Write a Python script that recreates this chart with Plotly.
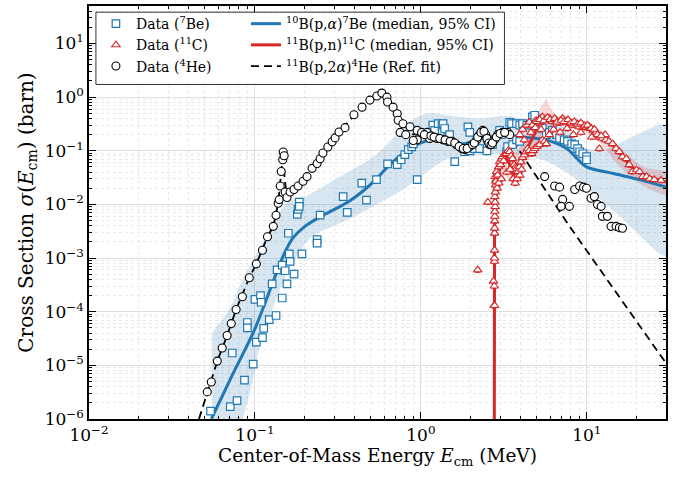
import numpy as np
import plotly.graph_objects as go

# ---------------- data ----------------
# 7Be data (10B(p,a)7Be)
be_x = [0.054, 0.071, 0.078, 0.0865, 0.0976, 0.073, 0.09, 0.09, 0.102, 0.111, 0.113, 0.122, 0.134,
        0.1, 0.108, 0.109, 0.146, 0.127, 0.156, 0.136, 0.146, 0.152, 0.172, 0.163, 0.161, 0.192,
        0.159, 0.237, 0.237, 0.18, 0.182, 0.185, 0.185, 0.247, 0.34, 0.36, 0.44, 0.47, 0.54, 0.63,
        0.72, 0.76, 0.8, 0.84, 0.88, 0.9, 0.95, 1.18, 1.21, 1.27, 1.34, 1.36, 1.39, 1.45, 1.49, 1.6,
        1.84, 1.92, 1.97, 1.97, 2.1, 2.26, 2.5, 2.7, 2.98, 3.06, 3.28, 3.28, 3.33, 3.43, 3.52, 3.57,
        3.77, 3.77, 3.94, 3.94, 4.1, 4.35, 4.7, 4.85, 5.2, 5.4, 5.7, 5.95, 6.2, 6.55, 6.85, 7.3,
        7.65, 8.1, 8.45, 8.8, 9.05, 9.45, 9.96, 9.96]
be_y = [1.4e-6, 1.7e-6, 2.2e-6, 5.3e-6, 1.05e-5, 1.7e-5, 6.3e-5, 5e-5, 2.7e-5, 3.3e-5, 4.9e-5, 7.1e-5, 8.5e-5,
        1.7e-4, 2e-4, 1.5e-4, 1.8e-4, 3.3e-4, 3.3e-4, 6e-4, 7.4e-4, 5.8e-4, 5e-4, 8.7e-4, 1.2e-3, 1.2e-3,
        2.9e-3, 2.2e-3, 1.9e-3, 6.5e-3, 8.1e-3, 0.011, 0.0092, 6.3e-3, 0.014, 7.1e-3, 0.025, 0.012, 0.029, 0.057,
        0.055, 0.068, 0.085, 0.105, 0.118, 0.135, 0.029, 0.3, 0.24, 0.32, 0.3, 0.32, 0.26, 0.18, 0.2, 0.063,
        0.096, 0.28, 0.22, 0.1, 0.11, 0.11, 0.1, 0.13, 0.24, 0.2, 0.22, 0.096, 0.12, 0.34, 0.32, 0.13,
        0.32, 0.16, 0.3, 0.15, 0.32, 0.3, 0.43, 0.46, 0.3, 0.26, 0.2, 0.22, 0.24, 0.2, 0.17, 0.16,
        0.15, 0.135, 0.13, 0.11, 0.096, 0.088, 0.078, 0.068]

# 11C data (11B(p,n)11C)
c_x = [2.2, 2.53, 2.76, 2.78, 2.74, 2.77, 2.775, 2.775, 2.78, 2.78, 2.785, 2.785, 2.79, 2.79, 2.8, 2.8,
       2.79, 2.81, 2.82, 2.84, 2.8,
       2.83, 2.86, 2.9, 2.94, 2.98, 3.02, 3.06, 3.1, 3.15, 3.2, 3.28, 3.35, 3.43, 3.5, 3.57, 3.65, 3.72,
       3.77, 3.85, 3.92, 4.0, 4.1, 4.2, 4.3, 4.4, 4.5, 4.65, 4.75, 4.85, 5.0, 5.2, 5.4, 5.55, 5.7, 5.95,
       2.88, 2.95, 3.05, 3.3, 3.45, 3.6, 3.7, 3.8, 3.95, 4.05,
       3.94, 4.1, 4.2, 4.35, 4.5, 4.7, 4.95, 5.1, 5.25, 5.4, 5.6, 5.95, 6.2, 6.55, 6.8, 7.15, 7.5, 7.85,
       8.2, 8.6, 9.0, 9.45, 9.9, 10.4, 10.9, 11.4, 11.9, 12.4, 13.0, 13.6, 14.3, 15.0, 15.7, 16.4, 17.3,
       18.0, 18.8, 19.9, 20.8, 21.7, 22.9, 23.9, 25.5, 28.0,
       6.3, 6.9, 7.6, 8.3, 9.2, 11.9, 10.7, 12.9, 4.6, 4.9, 5.3,
       5.0, 5.2, 5.5, 5.8, 6.0, 6.4, 6.6, 7.0, 7.3, 7.7, 8.0, 8.4, 8.8, 9.2, 9.7, 10.1, 10.6, 11.1,
       11.6, 12.2]
c_y = [6e-4, 0.011, 1.3e-4, 1.3e-4, 3.7e-4, 3e-4, 8.7e-4, 1e-3, 1.4e-3, 2.9e-3, 3.6e-3, 4.9e-3, 6e-3, 7.4e-3,
       9.1e-3, 0.011, 0.014, 0.017, 0.023, 0.029, 0.033,
       0.027, 0.041, 0.035, 0.05, 0.062, 0.055, 0.07, 0.077, 0.065, 0.085, 0.088, 0.1, 0.096, 0.08, 0.071,
       0.055, 0.05, 0.047, 0.041, 0.05, 0.062, 0.075, 0.084, 0.095, 0.11, 0.1, 0.088, 0.1, 0.11, 0.12, 0.13,
       0.16, 0.15, 0.135, 0.2,
       0.02, 0.025, 0.03, 0.04, 0.045, 0.03, 0.025, 0.03, 0.035, 0.045,
       0.2, 0.25, 0.16, 0.3, 0.34, 0.3, 0.37, 0.33, 0.4, 0.43, 0.38, 0.4, 0.35, 0.37, 0.33, 0.4, 0.36, 0.34,
       0.3, 0.32, 0.28, 0.3, 0.27, 0.28, 0.24, 0.22, 0.18, 0.17, 0.16, 0.15, 0.135, 0.11, 0.096, 0.077, 0.071,
       0.055, 0.041, 0.044, 0.041, 0.033, 0.033, 0.03, 0.029, 0.028,
       0.25, 0.22, 0.26, 0.2, 0.22, 0.11, 0.18, 0.2, 0.22, 0.27, 0.25,
       0.35, 0.38, 0.36, 0.42, 0.38, 0.4, 0.34, 0.37, 0.35, 0.38, 0.33, 0.35, 0.31, 0.33, 0.29, 0.3, 0.26,
       0.25, 0.2, 0.19]

# 4He data (11B(p,2a)4He)
he_x = [0.0516, 0.0546, 0.0593, 0.0635, 0.068, 0.072, 0.077, 0.084, 0.0925, 0.102, 0.111, 0.119, 0.129,
        0.134, 0.138, 0.14, 0.142, 0.144, 0.147, 0.148, 0.15, 0.152, 0.156, 0.163, 0.172, 0.182, 0.195,
        0.206, 0.221, 0.237, 0.247, 0.257, 0.275, 0.292, 0.304, 0.321, 0.349, 0.395, 0.442, 0.493, 0.543,
        0.582, 0.624, 0.63, 0.68, 0.72, 0.73, 0.78, 0.75, 0.81, 0.86, 0.95, 1.01, 1.09, 0.95, 0.9, 1.13,
        1.25, 1.36, 1.45, 1.54, 1.64, 1.76, 1.84, 1.97, 2.17, 2.26, 2.36, 2.46, 2.53, 2.6, 2.78, 2.9,
        3.1, 3.33, 3.43, 1.05, 1.15, 1.2, 1.3, 1.4, 1.5, 1.6, 1.7, 1.8, 1.9, 2.05, 2.1, 2.2, 2.3, 2.4,
        2.5, 2.57, 2.65, 2.7, 2.85, 3.0, 3.2,
        5.57, 6.4, 6.85, 7.15, 7.0, 7.85, 8.45, 9.05, 9.55, 9.96, 10.6, 11.1, 11.6, 12.2, 12.4, 13.3,
        14.0, 15.0, 15.7, 16.4]
he_y = [3.2e-6, 4.9e-6, 1.2e-5, 2.1e-5, 3.6e-5, 6e-5, 1.1e-4, 1.9e-4, 4.3e-4, 7.8e-4, 1.4e-3, 2.5e-3, 3.9e-3,
        6.3e-3, 0.0105, 0.0123, 0.022, 0.041, 0.068, 0.095, 0.081, 0.017, 0.0135, 0.017, 0.019, 0.022, 0.027,
        0.033, 0.047, 0.058, 0.071, 0.091, 0.118, 0.147, 0.174, 0.224, 0.27, 0.47, 0.65, 0.88, 1.05,
        1.19, 1.0, 0.81, 0.65, 0.49, 0.37, 0.32, 0.22, 0.2, 0.28, 0.24, 0.22, 0.22, 0.16, 0.155, 0.17,
        0.17, 0.16, 0.15, 0.15, 0.13, 0.11, 0.105, 0.12, 0.16, 0.2, 0.24, 0.2, 0.15, 0.13, 0.16, 0.2,
        0.22, 0.22, 0.2, 0.2, 0.19, 0.18, 0.17, 0.16, 0.15, 0.14, 0.12, 0.11, 0.11, 0.13, 0.14, 0.18, 0.22, 0.23,
        0.17, 0.14, 0.13, 0.14, 0.18, 0.21, 0.22,
        0.033, 0.022, 0.021, 0.0124, 0.0092, 0.0092, 0.019, 0.022, 0.021, 0.02, 0.013, 0.014, 0.01, 0.0092,
        0.006, 0.006, 0.0039, 0.0039, 0.0037, 0.0036]

# 10B(p,a)7Be median and 95% CI
be_med_x = [0.0546, 0.071, 0.099, 0.129, 0.15, 0.17, 0.2, 0.25, 0.3, 0.37, 0.45, 0.54, 0.65, 0.86, 1.13,
            1.3, 1.79, 2.26, 3.29, 4.1, 5.7, 7.55, 9.96, 14.3, 20.8, 30.0]
be_med_y = [1e-6, 5.5e-6, 4.5e-5, 3.7e-4, 1.2e-3, 2.4e-3, 3.9e-3, 6e-3, 8e-3, 0.0115, 0.018, 0.03, 0.055,
            0.11, 0.16, 0.166, 0.135, 0.166, 0.196, 0.18, 0.16, 0.11, 0.05, 0.038, 0.029, 0.021]
be_ci_x = [0.055, 0.071, 0.082, 0.112, 0.157, 0.2, 0.31, 0.54, 0.86, 1.1, 1.5, 2.3, 3.3, 4.0, 5.0, 7.0,
           10.0, 12.0, 15.0, 20.0, 30.0]
be_ci_hi = [4e-5, 1.2e-4, 3.3e-4, 2e-3, 0.011, 0.014, 0.03, 0.085, 0.35, 0.5, 0.45, 0.4, 0.45, 0.4, 0.4,
            0.3, 0.11, 0.1, 0.13, 0.2, 0.3]
be_lo_x = [0.055, 0.084, 0.11, 0.16, 0.22, 0.3, 0.4, 0.8, 1.25, 1.45, 2.0, 3.0, 4.5, 6.0, 8.0, 10.0, 15.0,
           20.0, 30.0]
be_ci_lo = [1e-7, 1e-6, 3e-5, 6e-4, 2.5e-3, 4e-3, 6e-3, 0.02, 0.055, 0.07, 0.08, 0.088, 0.08, 0.06, 0.035,
            0.02, 0.007, 0.003, 0.0011]

# 11B(p,n)11C median and 95% CI
c_med_x = [2.765, 2.766, 2.77, 2.78, 2.8, 2.9, 3.0, 3.2, 3.4, 3.6, 3.8, 4.0, 4.3, 4.6, 5.0, 5.4, 5.8, 6.5,
           7.5, 8.5, 10.0, 11.0, 12.0, 14.0, 16.0, 18.0, 20.0, 24.0, 30.0]
c_med_y = [1e-8, 1e-5, 1e-3, 4e-3, 0.01, 0.03, 0.05, 0.08, 0.06, 0.035, 0.04, 0.07, 0.1, 0.15, 0.25, 0.35,
           0.4, 0.38, 0.35, 0.32, 0.28, 0.24, 0.19, 0.14, 0.09, 0.055, 0.042, 0.032, 0.026]
c_ci_x = [2.77, 3.0, 3.2, 3.5, 3.8, 4.2, 4.6, 5.0, 5.4, 5.7, 6.1, 6.6, 8.0, 10.0, 12.0, 15.0, 18.0, 22.0, 30.0]
c_ci_hi = [0.02, 0.06, 0.1, 0.08, 0.1, 0.15, 0.3, 0.45, 0.75, 0.9, 0.6, 0.45, 0.42, 0.35, 0.25, 0.14, 0.08,
           0.05, 0.04]
c_lo_x = [2.77, 3.0, 3.2, 3.5, 3.7, 4.0, 4.4, 4.8, 5.2, 5.6, 6.5, 8.0, 10.0, 12.0, 15.0, 18.0, 22.0, 30.0]
c_ci_lo = [1e-3, 0.02, 0.035, 0.025, 0.02, 0.035, 0.06, 0.1, 0.18, 0.25, 0.3, 0.27, 0.22, 0.14, 0.06, 0.035,
           0.022, 0.015]

# 11B(p,2a)4He reference fit
ref_x = [0.046, 0.0516, 0.0593, 0.068, 0.077, 0.0925, 0.102, 0.119, 0.129, 0.138, 0.142, 0.145, 0.148, 0.151,
         0.156, 0.172, 0.2, 0.25, 0.3, 0.35, 0.4, 0.45, 0.5, 0.58, 0.63, 0.7, 0.8, 0.9, 1.0, 1.3, 1.6, 1.84,
         2.0, 2.2, 2.36, 2.6, 2.8, 3.0, 3.3, 3.6, 7.87, 30.0]
ref_y = [1e-6, 3.2e-6, 1.2e-5, 3.6e-5, 1.1e-4, 4.3e-4, 7.8e-4, 2.5e-3, 3.9e-3, 0.0105, 0.025, 0.06, 0.095, 0.03,
         0.0135, 0.019, 0.03, 0.085, 0.19, 0.3, 0.47, 0.7, 0.9, 1.15, 0.95, 0.55, 0.3, 0.2, 0.21, 0.17, 0.14,
         0.105, 0.13, 0.18, 0.24, 0.13, 0.16, 0.2, 0.22, 0.15, 3.9e-3, 1.1e-5]

# tick labels
x_tickvals = [0.01, 0.1, 1, 10]
x_ticktext = ["10<sup>−2</sup>", "10<sup>−1</sup>", "10<sup>0</sup>", "10<sup>1</sup>"]
y_tickvals = [1e-6, 1e-5, 1e-4, 1e-3, 1e-2, 1e-1, 1, 10]
y_ticktext = ["10<sup>−6</sup>", "10<sup>−5</sup>", "10<sup>−4</sup>", "10<sup>−3</sup>",
              "10<sup>−2</sup>", "10<sup>−1</sup>", "10<sup>0</sup>", "10<sup>1</sup>"]
x_minor = [m * d for d in [0.01, 0.1, 1, 10] for m in range(2, 10)]
y_minor = [m * d for d in [1e-6, 1e-5, 1e-4, 1e-3, 1e-2, 1e-1, 1, 10] for m in range(2, 10)]

BLUE = "#1f77b4"
RED = "#d62728"
FONT = "DejaVu Serif"

fig = go.Figure()

# bands
fig.add_trace(go.Scatter(x=be_ci_x + be_lo_x[::-1], y=be_ci_hi + be_ci_lo[::-1], fill="toself",
                         fillcolor="rgba(31,119,180,0.18)", line=dict(width=0, shape="spline", smoothing=0.8),
                         mode="lines", showlegend=False, hoverinfo="skip"))
fig.add_trace(go.Scatter(x=c_ci_x + c_lo_x[::-1], y=c_ci_hi + c_ci_lo[::-1], fill="toself",
                         fillcolor="rgba(214,39,40,0.18)", line=dict(width=0, shape="spline", smoothing=0.6),
                         mode="lines", showlegend=False, hoverinfo="skip"))

# lines
fig.add_trace(go.Scatter(x=be_med_x, y=be_med_y, mode="lines",
                         line=dict(color=BLUE, width=3, shape="spline", smoothing=0.8),
                         name="<sup>10</sup>B(p,<i>α</i>)<sup>7</sup>Be (median, 95% CI)", legend="legend2"))
fig.add_trace(go.Scatter(x=c_med_x, y=c_med_y, mode="lines", line=dict(color=RED, width=3),
                         name="<sup>11</sup>B(p,n)<sup>11</sup>C (median, 95% CI)", legend="legend2"))
fig.add_trace(go.Scatter(x=ref_x, y=ref_y, mode="lines",
                         line=dict(color="black", width=1.8, dash="8px,5px"),
                         name="<sup>11</sup>B(p,2<i>α</i>)<sup>4</sup>He (Ref. fit)", legend="legend2"))

# data
fig.add_trace(go.Scatter(x=be_x, y=be_y, mode="markers", name="Data (<sup>7</sup>Be)", legendrank=1,
                         marker=dict(symbol="square", size=7.5, color="white", line=dict(color=BLUE, width=1.2)),
                         error_y=dict(type="percent", value=12, color=BLUE, thickness=1, width=2),
                         legend="legend"))
fig.add_trace(go.Scatter(x=he_x, y=he_y, mode="markers", name="Data (<sup>4</sup>He)", legendrank=3,
                         marker=dict(symbol="circle", size=8, color="white", line=dict(color="black", width=1.1)),
                         error_y=dict(type="percent", value=8, color="black", thickness=1, width=2),
                         legend="legend"))
fig.add_trace(go.Scatter(x=c_x, y=c_y, mode="markers", name="Data (<sup>11</sup>C)", legendrank=2,
                         marker=dict(symbol="triangle-up", size=7.5, color="white", line=dict(color=RED, width=1.1)),
                         error_y=dict(type="percent", value=10, color=RED, thickness=1, width=2),
                         legend="legend"))

axis_common = dict(type="log", showline=True, linecolor="black", linewidth=1.5, mirror="allticks",
                   ticks="inside", ticklen=7, tickwidth=1.2, tickcolor="black",
                   showgrid=True, gridcolor="#dedede", gridwidth=1, zeroline=False,
                   tickfont=dict(family=FONT, size=17, color="black"))
minor_common = dict(ticks="inside", ticklen=3.5, tickwidth=1, tickcolor="black",
                    showgrid=True, gridcolor="#e9e9e9", griddash="dot", gridwidth=1)

fig.update_xaxes(**axis_common, range=[-2, np.log10(30)], tickvals=x_tickvals, ticktext=x_ticktext,
                 minor=dict(**minor_common, tickvals=x_minor),
                 title=dict(text="Center-of-Mass Energy <i>E</i><sub>cm</sub> (MeV)",
                            font=dict(family=FONT, size=18.5, color="black"), standoff=4))
fig.update_yaxes(**axis_common, range=[-6, np.log10(50)], tickvals=y_tickvals, ticktext=y_ticktext,
                 minor=dict(**minor_common, tickvals=y_minor),
                 title=dict(text="Cross Section <i>σ</i>(<i>E</i><sub>cm</sub>) (barn)",
                            font=dict(family=FONT, size=20, color="black"), standoff=6))

fig.add_shape(type="rect", xref="paper", yref="paper", x0=0.012, x1=0.72, y0=0.81, y1=0.985,
              line=dict(color="#333333", width=1), fillcolor="white", layer="above")

legfont = dict(family=FONT, size=14, color="black")
fig.update_layout(
    width=695, height=477,
    margin=dict(l=89, r=29, t=4, b=58),
    paper_bgcolor="white", plot_bgcolor="white",
    font=dict(family=FONT, color="black"),
    legend=dict(x=0.012, y=0.995, xanchor="left", yanchor="top", bgcolor="rgba(0,0,0,0)",
                font=legfont, traceorder="normal", itemwidth=30),
    legend2=dict(x=0.272, y=0.995, xanchor="left", yanchor="top", bgcolor="rgba(0,0,0,0)",
                 font=legfont, traceorder="normal", itemwidth=30),
)

fig.write_html("out.html")
